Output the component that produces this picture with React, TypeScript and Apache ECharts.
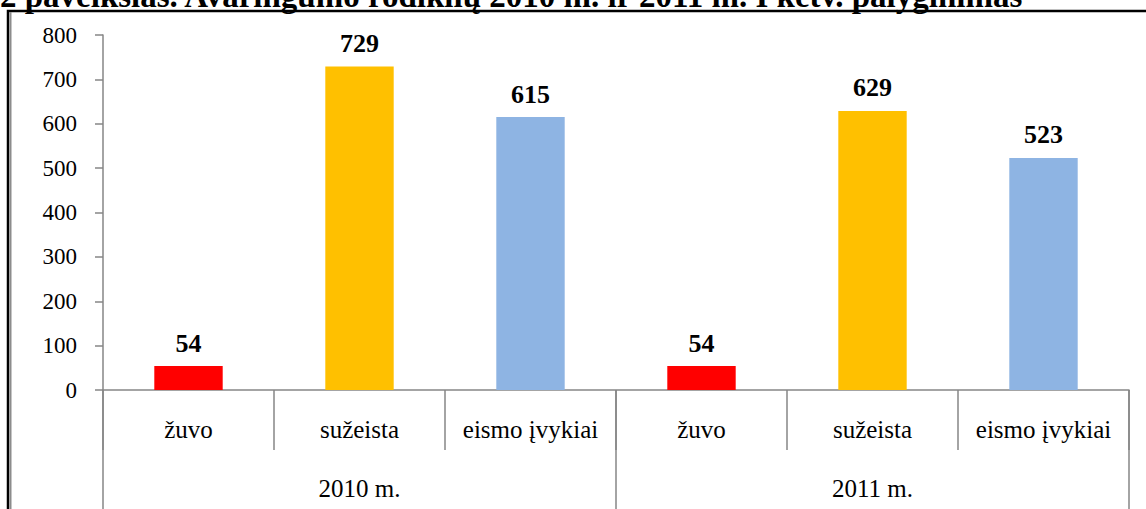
import React, { useEffect, useRef } from "react";
import * as echarts from "echarts";

const title = "2 paveikslas. Avaringumo rodiklių 2010 m. ir 2011 m. I ketv. palyginimas";
const categories = ["žuvo", "sužeista", "eismo įvykiai", "žuvo", "sužeista", "eismo įvykiai"];
const groups = ["2010 m.", "2011 m."];
const values = [54, 729, 615, 54, 629, 523];
const colors = ["#FF0000", "#FFC000", "#8EB4E3", "#FF0000", "#FFC000", "#8EB4E3"];
const yTicks = { min: 0, max: 800, interval: 100 };

const SERIF = "Liberation Serif";
const GRAY = "#868686";

export default function App() {
  const ref = useRef<HTMLDivElement>(null);
  useEffect(() => {
    document.body.style.margin = "0";
    const chart = echarts.init(ref.current!, null, { renderer: "svg" });
    chart.setOption({
      animation: false,
      backgroundColor: "#ffffff",
      textStyle: { fontFamily: SERIF },
      grid: { left: 103, right: 17, top: 35, bottom: 119, containLabel: false },
      xAxis: [
        {
          type: "category",
          data: categories,
          position: "bottom",
          axisLine: { show: true, lineStyle: { color: GRAY, width: 1.5 } },
          axisTick: { show: true, interval: 0, length: 60, lineStyle: { color: GRAY, width: 1.5 } },
          axisLabel: { interval: 0, margin: 27, fontFamily: SERIF, fontSize: 25, color: "#000" },
        },
        {
          type: "category",
          data: groups,
          position: "bottom",
          axisLine: { show: false },
          axisTick: { show: true, interval: 0, length: 130, lineStyle: { color: GRAY, width: 1.5 } },
          axisLabel: { interval: 0, margin: 86, fontFamily: SERIF, fontSize: 25, color: "#000" },
        },
      ],
      yAxis: {
        type: "value",
        min: yTicks.min,
        max: yTicks.max,
        interval: yTicks.interval,
        axisLine: { show: true, lineStyle: { color: GRAY, width: 1.5 } },
        axisTick: { show: true, length: 8, lineStyle: { color: GRAY, width: 1.5 } },
        splitLine: { show: false },
        axisLabel: { margin: 26, fontFamily: SERIF, fontSize: 23, color: "#000" },
      },
      series: [
        {
          type: "bar",
          xAxisIndex: 0,
          barWidth: "40%",
          data: values.map((v, i) => ({ value: v, itemStyle: { color: colors[i] } })),
          label: {
            show: true,
            position: "top",
            distance: 10,
            fontFamily: SERIF,
            fontWeight: "bold",
            fontSize: 26,
            color: "#000",
          },
        },
      ],
      graphic: [
        {
          type: "rect",
          shape: { x: 8, y: 11, width: 1300, height: 700 },
          style: { fill: "none", stroke: "#000", lineWidth: 2.5 },
          silent: true,
        },
        {
          type: "line",
          shape: { x1: 10.5, y1: 12, x2: 10.5, y2: 520 },
          style: { stroke: "#8c8c8c", lineWidth: 2 },
          silent: true,
        },
        {
          type: "text",
          x: 0,
          y: 12,
          style: {
            text: title,
            fontFamily: SERIF,
            fontWeight: "bold",
            fontSize: 33,
            fill: "#000",
            align: "left",
            verticalAlign: "bottom",
          },
          silent: true,
        },
      ],
    });
    return () => chart.dispose();
  }, []);
  return <div ref={ref} style={{ width: 1146, height: 509 }} />;
}
